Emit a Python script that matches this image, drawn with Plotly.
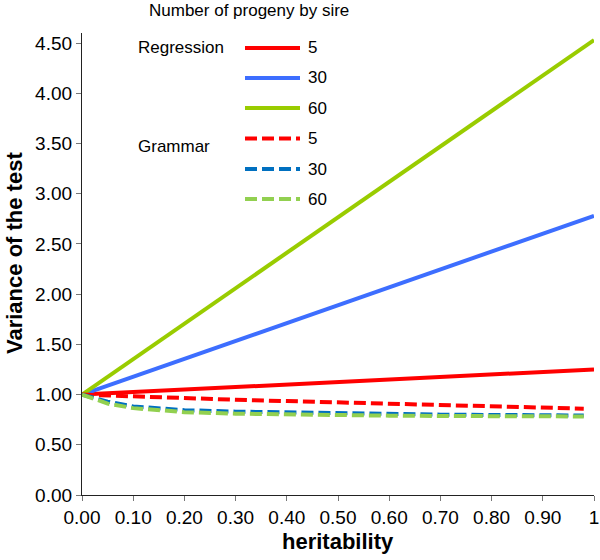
import plotly.graph_objects as go

# ---------------- data ----------------
reg_h = [0.0, 1.0]
reg_5 = [1.00, 1.25]
reg_30 = [1.00, 2.78]
reg_60 = [1.00, 4.53]

gram_h = [0.0, 0.05, 0.10, 0.15, 0.20, 0.30, 0.40, 0.50, 0.60, 0.70, 0.80, 0.90, 0.98]
gram_5 = [1.000, 0.990, 0.978, 0.970, 0.963, 0.948, 0.935, 0.922, 0.908, 0.895, 0.882, 0.870, 0.860]
gram_30 = [1.000, 0.930, 0.882, 0.860, 0.845, 0.830, 0.820, 0.812, 0.806, 0.800, 0.797, 0.794, 0.792]
gram_60 = [1.000, 0.910, 0.865, 0.840, 0.825, 0.810, 0.800, 0.795, 0.790, 0.787, 0.785, 0.783, 0.782]

x_tickvals = [0.0, 0.1, 0.2, 0.3, 0.4, 0.5, 0.6, 0.7, 0.8, 0.9, 1.0]
x_ticktext = ["0.00", "0.10", "0.20", "0.30", "0.40", "0.50", "0.60", "0.70", "0.80", "0.90", "1"]
y_tickvals = [0.0, 0.5, 1.0, 1.5, 2.0, 2.5, 3.0, 3.5, 4.0, 4.5]
y_ticktext = ["0.00", "0.50", "1.00", "1.50", "2.00", "2.50", "3.00", "3.50", "4.00", "4.50"]

series_labels = ["5", "30", "60"]
group_names = ["Regression", "Grammar"]
legend_title = "Number of progeny by sire"

# ---------------- style ----------------
FONT = "Liberation Sans, Arial, Helvetica, sans-serif"
W, H = 600, 560
ML, MR, MT, MB = 82, 6, 33, 65
PW, PH = W - ML - MR, H - MT - MB

reg_colors = ["#FF0000", "#3D6EFF", "#99CC00"]
gram_colors = ["#FF0000", "#0070C0", "#92D050"]
DASH = "12px,5px"
LW = 4


def px_x(px):
    return (px - ML) / PW


def px_y(py):
    return (H - MB - py) / PH


fig = go.Figure()
for vals, col, lab in zip([reg_5, reg_30, reg_60], reg_colors, series_labels):
    fig.add_trace(go.Scatter(x=reg_h, y=vals, mode="lines", name="Regression " + lab,
                             line=dict(color=col, width=LW), showlegend=False))
for vals, col, lab in zip([gram_5, gram_30, gram_60], gram_colors, series_labels):
    fig.add_trace(go.Scatter(x=gram_h, y=vals, mode="lines", name="Grammar " + lab,
                             line=dict(color=col, width=LW, dash=DASH), showlegend=False))

shapes = []
annotations = []

# legend (drawn manually)
annotations.append(dict(text=legend_title, xref="paper", yref="paper",
                        x=px_x(147), y=px_y(10), xanchor="left", yanchor="middle",
                        showarrow=False, font=dict(size=17, color="#000", family=FONT)))
row_y = [48, 78, 108, 138.5, 169, 199]
group_y = [48, 146]
for name, gy in zip(group_names, group_y):
    annotations.append(dict(text=name, xref="paper", yref="paper",
                            x=px_x(136), y=px_y(gy), xanchor="left", yanchor="middle",
                            showarrow=False, font=dict(size=17, color="#000", family=FONT)))
legend_cols = reg_colors + gram_colors
legend_dash = ["solid"] * 3 + [DASH] * 3
legend_labs = series_labels + series_labels
for ry, col, dsh, lab in zip(row_y, legend_cols, legend_dash, legend_labs):
    shapes.append(dict(type="line", xref="paper", yref="paper",
                       x0=px_x(245), x1=px_x(300), y0=px_y(ry), y1=px_y(ry),
                       line=dict(color=col, width=LW, dash=dsh)))
    annotations.append(dict(text=lab, xref="paper", yref="paper",
                            x=px_x(306), y=px_y(ry), xanchor="left", yanchor="middle",
                            showarrow=False, font=dict(size=17, color="#000", family=FONT)))

# axis titles
annotations.append(dict(text="<b>Variance of the test</b>", xref="paper", yref="paper",
                        x=px_x(14), y=px_y(253), xanchor="center", yanchor="middle",
                        textangle=-90, showarrow=False,
                        font=dict(size=22, color="#000", family=FONT)))
annotations.append(dict(text="<b>heritability</b>", xref="paper", yref="paper",
                        x=px_x(338), y=px_y(541), xanchor="center", yanchor="middle",
                        showarrow=False, font=dict(size=22, color="#000", family=FONT)))

fig.update_layout(
    width=W, height=H,
    margin=dict(l=ML, r=MR, t=MT, b=MB, autoexpand=False),
    paper_bgcolor="white", plot_bgcolor="white",
    showlegend=False,
    shapes=shapes, annotations=annotations,
    font=dict(family=FONT, color="#000"),
)
fig.update_xaxes(range=[0, 1], tickvals=x_tickvals, ticktext=x_ticktext, automargin=False,
                 showgrid=False, zeroline=False, showline=True, linecolor="#222", linewidth=1.2,
                 ticks="outside", ticklen=5, tickcolor="#777", tickwidth=1.2,
                 tickfont=dict(size=19, family=FONT, color="#000"))
fig.update_yaxes(range=[0, 4.6], tickvals=y_tickvals, ticktext=y_ticktext, automargin=False,
                 showgrid=False, zeroline=False, showline=True, linecolor="#222", linewidth=1.2,
                 ticks="outside", ticklen=5, tickcolor="#777", tickwidth=1.2,
                 tickfont=dict(size=19, family=FONT, color="#000"))

fig.write_html("out.html", config={"displayModeBar": False},
               post_script="document.body.style.margin='0';document.body.style.overflow='hidden';")
